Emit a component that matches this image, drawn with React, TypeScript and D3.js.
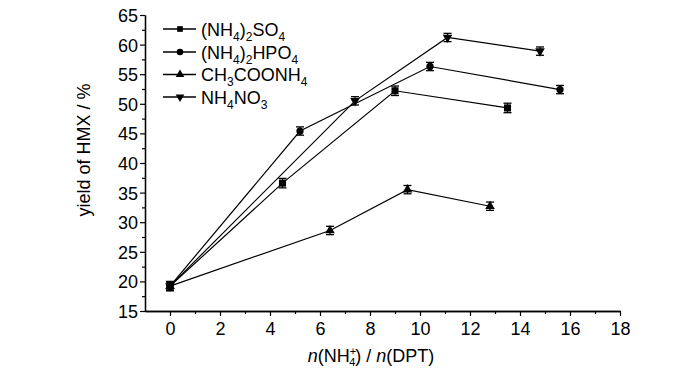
import React, { useEffect, useRef } from "react";
import * as d3 from "d3";

const seriesNames = ["so4", "hpo4", "acetate", "nitrate"];
const markerTypes = ["square", "circle", "triangleUp", "triangleDown"];

const so4X = [0, 4.5, 9.0, 13.5];
const so4Y = [19.2, 36.6, 52.2, 49.3];
const hpo4X = [0, 5.2, 10.4, 15.6];
const hpo4Y = [19.2, 45.4, 56.3, 52.4];
const acetateX = [0, 6.4, 9.5, 12.8];
const acetateY = [19.2, 28.6, 35.5, 32.7];
const nitrateX = [0, 7.4, 11.1, 14.8];
const nitrateY = [19.2, 50.5, 61.2, 58.9];
const errorSize = [0.8, 0.7, 0.7, 0.7];

const xTicks = [0, 2, 4, 6, 8, 10, 12, 14, 16, 18];
const yTicks = [15, 20, 25, 30, 35, 40, 45, 50, 55, 60, 65];

// legend labels as [text, subscript?] pieces
const legendLabels: [string, boolean][][] = [
  [["(NH", false], ["4", true], [")", false], ["2", true], ["SO", false], ["4", true]],
  [["(NH", false], ["4", true], [")", false], ["2", true], ["HPO", false], ["4", true]],
  [["CH", false], ["3", true], ["COONH", false], ["4", true]],
  [["NH", false], ["4", true], ["NO", false], ["3", true]],
];

const FONT = "'Liberation Sans', Arial, sans-serif";

function symbolFor(type: string) {
  if (type === "square") return d3.symbol(d3.symbolSquare, 50)();
  if (type === "circle") return d3.symbol(d3.symbolCircle, 42)();
  if (type === "triangleUp") return d3.symbol(d3.symbolTriangle, 40)();
  return d3.symbol(d3.symbolTriangle, 40)();
}

export default function App() {
  const ref = useRef<SVGSVGElement>(null);

  useEffect(() => {
    const svg = d3.select(ref.current);
    svg.selectAll("*").remove();

    const x = d3.scaleLinear().domain([-1, 18]).range([145, 620]);
    const y = d3.scaleLinear().domain([15, 65]).range([311, 15]);

    const data = [
      { xs: so4X, ys: so4Y },
      { xs: hpo4X, ys: hpo4Y },
      { xs: acetateX, ys: acetateY },
      { xs: nitrateX, ys: nitrateY },
    ];

    // axes
    const xAxis = d3.axisBottom(x).tickValues(xTicks).tickSize(5).tickSizeOuter(0).tickPadding(6);
    const xMinor = d3.axisBottom(x).tickValues(d3.range(1, 18, 2)).tickSize(3).tickFormat(() => "").tickSizeOuter(0);
    const yAxis = d3.axisLeft(y).tickValues(yTicks).tickSize(5).tickSizeOuter(0).tickPadding(2);
    const yMinor = d3.axisLeft(y).tickValues(d3.range(17.5, 65, 5)).tickSize(3).tickFormat(() => "").tickSizeOuter(0);

    const gx = svg.append("g").attr("transform", "translate(0,311)").call(xAxis);
    svg.append("g").attr("transform", "translate(0,311)").call(xMinor);
    const gy = svg.append("g").attr("transform", "translate(145,0)").call(yAxis);
    svg.append("g").attr("transform", "translate(145,0)").call(yMinor);

    svg.selectAll(".domain").attr("stroke", "#000").attr("stroke-width", 1.3);
    svg.selectAll(".tick line").attr("stroke", "#000").attr("stroke-width", 1.2);
    gx.selectAll("text").attr("font-family", FONT).attr("font-size", 18).attr("fill", "#000");
    gy.selectAll("text").attr("font-family", FONT).attr("font-size", 18).attr("fill", "#000").attr("dy", "0.36em");

    // series
    const line = d3.line<[number, number]>().x((d) => x(d[0])).y((d) => y(d[1]));
    data.forEach((s, i) => {
      const pts: [number, number][] = s.xs.map((v, j) => [v, s.ys[j]]);
      const g = svg.append("g").attr("class", seriesNames[i]);
      g.append("path").attr("d", line(pts)).attr("fill", "none").attr("stroke", "#000").attr("stroke-width", 1.2);

      pts.forEach((p) => {
        const e = errorSize[i];
        const cx = x(p[0]);
        g.append("line").attr("x1", cx).attr("x2", cx).attr("y1", y(p[1] - e)).attr("y2", y(p[1] + e)).attr("stroke", "#000").attr("stroke-width", 1.2);
        [p[1] - e, p[1] + e].forEach((v) => {
          g.append("line").attr("x1", cx - 4).attr("x2", cx + 4).attr("y1", y(v)).attr("y2", y(v)).attr("stroke", "#000").attr("stroke-width", 1.3);
        });
        g.append("path")
          .attr("d", symbolFor(markerTypes[i]))
          .attr("transform", `translate(${cx},${y(p[1])})${markerTypes[i] === "triangleDown" ? " rotate(180)" : ""}`)
          .attr("fill", "#000");
      });
    });

    // legend
    const legendY = [29, 52, 74.5, 97];
    legendLabels.forEach((parts, i) => {
      const ly = legendY[i];
      svg.append("line").attr("x1", 163).attr("x2", 196).attr("y1", ly).attr("y2", ly).attr("stroke", "#000").attr("stroke-width", 1.3);
      const sz = markerTypes[i] === "square" ? 0.8 : 0.9;
      svg.append("path")
        .attr("d", symbolFor(markerTypes[i]))
        .attr("transform", `translate(180,${ly})${markerTypes[i] === "triangleDown" ? " rotate(180)" : ""} scale(${sz})`)
        .attr("fill", "#000");
      const t = svg.append("text").attr("x", 201).attr("y", ly + 6.5).attr("font-family", FONT).attr("font-size", 18).attr("fill", "#000");
      parts.forEach(([txt, sub], k) => {
        const prevSub = k > 0 && parts[k - 1][1];
        const ts = t.append("tspan").text(txt);
        if (sub) ts.attr("font-size", 12).attr("dy", prevSub ? 0 : 5);
        else if (prevSub) ts.attr("dy", -5);
      });
    });

    // axis titles
    svg.append("text")
      .attr("transform", "translate(90,150) rotate(-90)")
      .attr("text-anchor", "middle")
      .attr("font-family", FONT).attr("font-size", 18).attr("fill", "#000")
      .text("yield of HMX / %");

    const xt = svg.append("text").attr("x", 371).attr("y", 362).attr("text-anchor", "middle")
      .attr("font-family", FONT).attr("font-size", 18).attr("fill", "#000");
    xt.append("tspan").attr("font-style", "italic").text("n");
    xt.append("tspan").text("(NH");
    xt.append("tspan").attr("font-size", 11).attr("dy", -7).attr("dx", 0).text("+");
    xt.append("tspan").attr("font-size", 11).attr("dy", 11).attr("dx", -7).text("4");
    xt.append("tspan").attr("dy", -4).text(") / ");
    xt.append("tspan").attr("font-style", "italic").text("n");
    xt.append("tspan").text("(DPT)");
  }, []);

  return <svg ref={ref} width={700} height={373} style={{ display: "block", position: "absolute", left: 0, top: 0 }} />;
}
